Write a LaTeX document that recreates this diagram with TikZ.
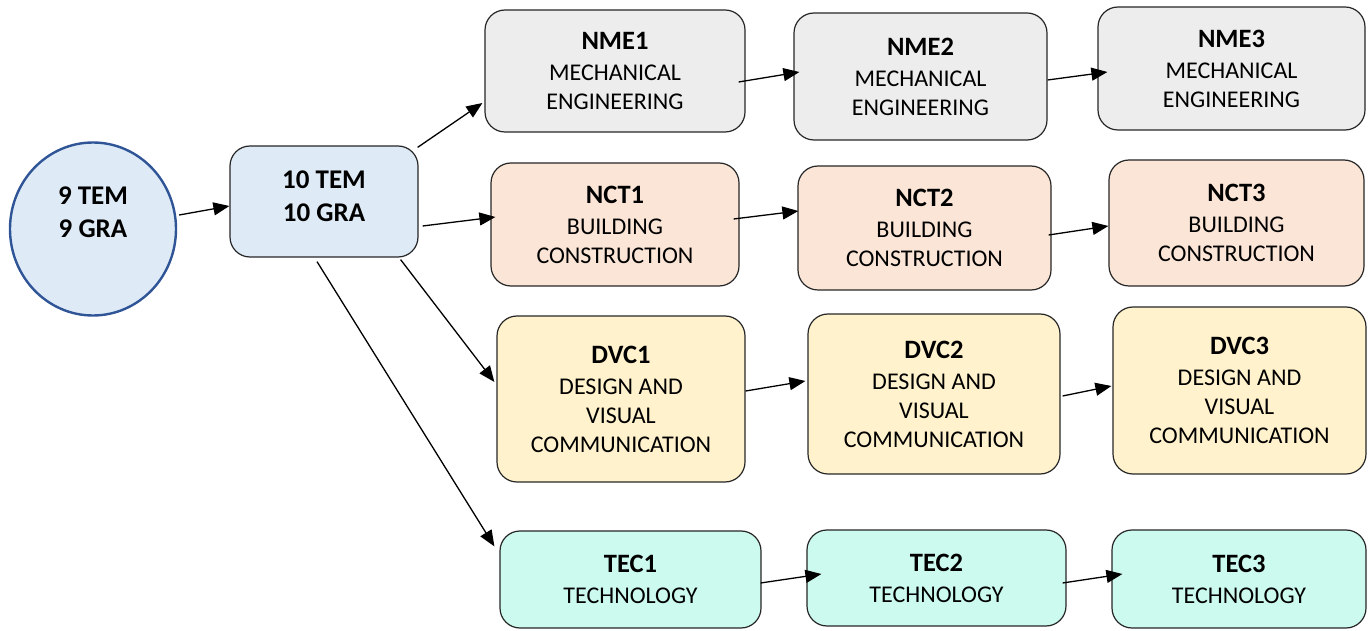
\documentclass[tikz,border=0pt]{standalone}
\usepackage{fontspec}
\setmainfont{Carlito}
\usetikzlibrary{arrows.meta,shapes.geometric}
\definecolor{GradeBlue}{HTML}{DEEBF7}
\definecolor{GradeEdge}{HTML}{2F5597}
\definecolor{MechGrey}{HTML}{EDEDED}
\definecolor{BuildPeach}{HTML}{FBE5D6}
\definecolor{DesignCream}{HTML}{FFF2CC}
\definecolor{TechMint}{HTML}{CCFAEF}
\newcommand{\hd}[1]{{\fontsize{26.5}{31}\selectfont\bfseries #1}}
\tikzset{
    block/.style = {draw=black!85, rectangle, line width=1.2pt,
        rounded corners=20pt, inner sep=0pt, align=center,
        font=\fontsize{24}{29}\selectfont},
    entry/.style = {draw=GradeEdge, ellipse, line width=2.4pt,
        fill=GradeBlue, inner sep=0pt, align=center,
        font=\fontsize{27}{33}\selectfont\bfseries},
    arrow/.style = {draw, line width=1.3pt, -{Triangle[length=16pt,width=13pt]}}
}

\begin{document}
\begin{tikzpicture}[x=1pt,y=1pt]
  \useasboundingbox (0,0) rectangle (1369,630);
  % entry grades
  \node[entry,minimum width=166,minimum height=173] (g9) at (93,401) {9 TEM\\9 GRA\\[0pt]};
  \node[block,fill=GradeBlue,minimum width=188,minimum height=111,
        font=\fontsize{27}{33}\selectfont\bfseries] (g10) at (324,428.5) {10 TEM\\10 GRA\\[-22pt]};
  % mechanical engineering
  \node[block,fill=MechGrey,minimum width=260,minimum height=122] (nme1) at (615,559) {\hd{NME1}\\[2pt]MECHANICAL\\ENGINEERING};
  \node[block,fill=MechGrey,minimum width=253,minimum height=127] (nme2) at (920.5,553.5) {\hd{NME2}\\[2pt]MECHANICAL\\ENGINEERING};
  \node[block,fill=MechGrey,minimum width=267,minimum height=123] (nme3) at (1231.5,561.5) {\hd{NME3}\\[2pt]MECHANICAL\\ENGINEERING};
  % building construction
  \node[block,fill=BuildPeach,minimum width=248,minimum height=123] (nct1) at (615,405.5) {\hd{NCT1}\\[2pt]BUILDING\\CONSTRUCTION};
  \node[block,fill=BuildPeach,minimum width=253,minimum height=124] (nct2) at (924.5,402) {\hd{NCT2}\\[2pt]BUILDING\\CONSTRUCTION};
  \node[block,fill=BuildPeach,minimum width=255,minimum height=126] (nct3) at (1236.5,407) {\hd{NCT3}\\[2pt]BUILDING\\CONSTRUCTION};
  % design and visual communication
  \node[block,fill=DesignCream,minimum width=248,minimum height=166] (dvc1) at (621,231) {\hd{DVC1}\\[2pt]DESIGN AND\\VISUAL\\COMMUNICATION};
  \node[block,fill=DesignCream,minimum width=252,minimum height=160] (dvc2) at (934,236) {\hd{DVC2}\\[2pt]DESIGN AND\\VISUAL\\COMMUNICATION};
  \node[block,fill=DesignCream,minimum width=253,minimum height=167] (dvc3) at (1239.5,239.5) {\hd{DVC3}\\[2pt]DESIGN AND\\VISUAL\\COMMUNICATION};
  % technology
  \node[block,fill=TechMint,minimum width=261,minimum height=97] (tec1) at (630.5,50.5) {\hd{TEC1}\\[2pt]TECHNOLOGY};
  \node[block,fill=TechMint,minimum width=259,minimum height=96] (tec2) at (936.5,52) {\hd{TEC2}\\[2pt]TECHNOLOGY};
  \node[block,fill=TechMint,minimum width=254,minimum height=98] (tec3) at (1239,51) {\hd{TEC3}\\[2pt]TECHNOLOGY};

  % grade 9 to grade 10, then out to the four streams
  \draw[arrow] ([shift={(2,14)}]g9.east) -- ([yshift=-4.5]g10.west);
  \draw[arrow] ([shift={(-1,-2)}]g10.north east) -- ([shift={(-2,-32)}]nme1.west);
  \draw[arrow] ([shift={(4,-24.5)}]g10.east) -- ([shift={(5,7.5)}]nct1.west);
  \draw[arrow] ([shift={(-18,-2)}]g10.south east) -- ([shift={(-2,17)}]dvc1.west);
  \draw[arrow] ([shift={(-7,-4)}]g10.south) -- ([shift={(-5,-16)}]tec1.north west);
  % year to year
  \draw[arrow] ([shift={(-7,-11)}]nme1.east) -- ([shift={(6,4.5)}]nme2.west);
  \draw[arrow] ([shift={(0,-3.5)}]nme2.east) -- ([shift={(10,-3.5)}]nme3.west);
  \draw[arrow] ([shift={(-6,5.5)}]nct1.east) -- ([shift={(1,17)}]nct2.west);
  \draw[arrow] ([shift={(-3,-7)}]nct2.east) -- ([shift={(0,-3)}]nct3.west);
  \draw[arrow] ([shift={(0,8)}]dvc1.east) -- ([shift={(-2,13)}]dvc2.west);
  \draw[arrow] ([shift={(2,-2)}]dvc2.east) -- ([shift={(-1,4.5)}]dvc3.west);
  \draw[arrow] ([shift={(-1,-3.5)}]tec1.east) -- ([shift={(15,4)}]tec2.west);
  \draw[arrow] ([shift={(-4,-5)}]tec2.east) -- ([shift={(11,5)}]tec3.west);
\end{tikzpicture}
\end{document}
